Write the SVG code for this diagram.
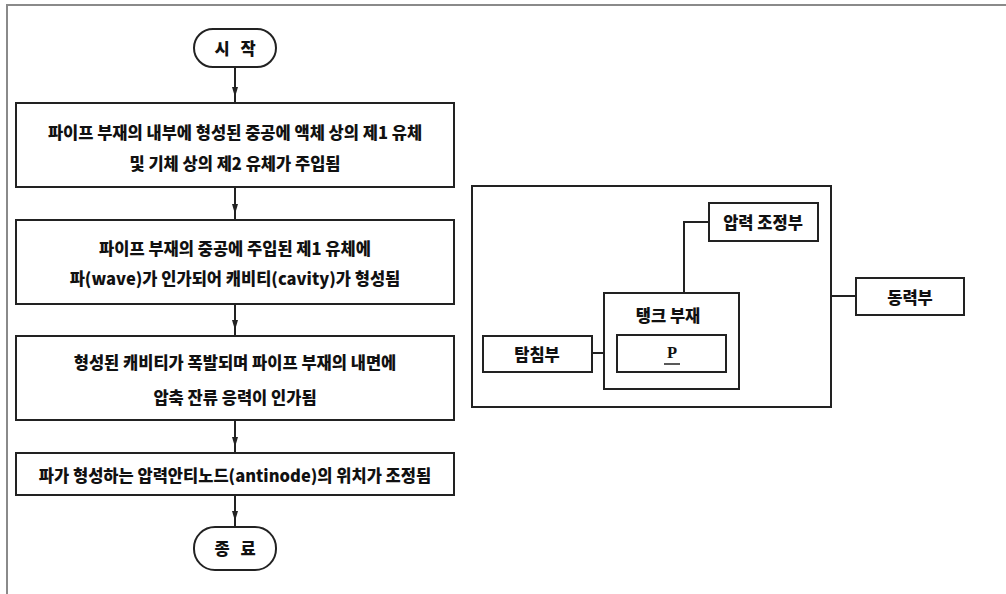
<svg xmlns="http://www.w3.org/2000/svg" width="1006" height="594" viewBox="0 0 1006 594">
<defs>
<marker id="ah" viewBox="0 0 10 6" refX="10" refY="3" markerWidth="10" markerHeight="6" markerUnits="userSpaceOnUse" orient="auto">
<path d="M0,0 L10,3 L0,6 Z" fill="#222"/>
</marker>
</defs>
<style>
.box{fill:#fff;stroke:#222;stroke-width:2}
.ln{fill:none;stroke:#222;stroke-width:2}
.t{font-family:"Noto Sans CJK KR","Noto Sans",sans-serif;font-weight:900;font-size:16.5px;fill:#111;text-anchor:middle;dominant-baseline:central}
.term{word-spacing:7px}
.frame{fill:none;stroke:#8a8a8a;stroke-width:2}
</style>
<rect width="1006" height="594" fill="#fff"/>
<path class="frame" d="M7,594 V5 H1006"/>
<g id="connectors">
<path class="ln" d="M235,67 V97 V103" marker-mid="url(#ah)"/>
<path class="ln" d="M235,187 V214 V220" marker-mid="url(#ah)"/>
<path class="ln" d="M235,304 V330 V336" marker-mid="url(#ah)"/>
<path class="ln" d="M235,420 V447 V453" marker-mid="url(#ah)"/>
<path class="ln" d="M235,495 V521 V527" marker-mid="url(#ah)"/>
<path class="ln" d="M592,353 H617"/>
<path class="ln" d="M684,293 V222 H709"/>
<path class="ln" d="M831,296 H856"/>
</g>
<g id="start">
<rect class="box" x="194" y="29" width="82" height="38" rx="19"/>
<text class="t term" x="235" y="48">시 작</text>
</g>
<g id="step1">
<rect class="box" x="16" y="103" width="438" height="84"/>
<text class="t" x="235" y="132">파이프 부재의 내부에 형성된 중공에 액체 상의 제1 유체</text>
<text class="t" x="235" y="163">및 기체 상의 제2 유체가 주입됨</text>
</g>
<g id="step2">
<rect class="box" x="16" y="220" width="438" height="84"/>
<text class="t" x="235" y="248">파이프 부재의 중공에 주입된 제1 유체에</text>
<text class="t" x="235" y="278">파(wave)가 인가되어 캐비티(cavity)가 형성됨</text>
</g>
<g id="step3">
<rect class="box" x="16" y="336" width="438" height="84"/>
<text class="t" x="235" y="362">형성된 캐비티가 폭발되며 파이프 부재의 내면에</text>
<text class="t" x="235" y="397">압축 잔류 응력이 인가됨</text>
</g>
<g id="step4">
<rect class="box" x="16" y="453" width="438" height="42"/>
<text class="t" x="235" y="475">파가 형성하는 압력안티노드(antinode)의 위치가 조정됨</text>
</g>
<g id="end">
<rect class="box" x="194" y="527" width="82" height="43" rx="21"/>
<text class="t term" x="235" y="548">종 료</text>
</g>
<g id="system">
<rect class="box" x="472" y="186" width="359" height="221" style="fill:none"/>
</g>
<g id="pressure">
<rect class="box" x="709" y="203" width="109" height="38"/>
<text class="t" x="763" y="222">압력 조정부</text>
</g>
<g id="tank">
<rect class="box" x="604" y="293" width="135" height="96"/>
<text class="t" x="668" y="315">탱크 부재</text>
</g>
<g id="p">
<rect class="box" x="617" y="335" width="109" height="37"/>
<text class="t" x="672" y="352" style="font-family:'Liberation Serif',serif">P</text>
<line class="ln" x1="664" y1="364" x2="680" y2="364" style="stroke-width:1.5"/>
</g>
<g id="probe">
<rect class="box" x="483" y="336" width="109" height="36"/>
<text class="t" x="537" y="354">탐침부</text>
</g>
<g id="power">
<rect class="box" x="856" y="278" width="108" height="37"/>
<text class="t" x="910" y="297">동력부</text>
</g>
</svg>
